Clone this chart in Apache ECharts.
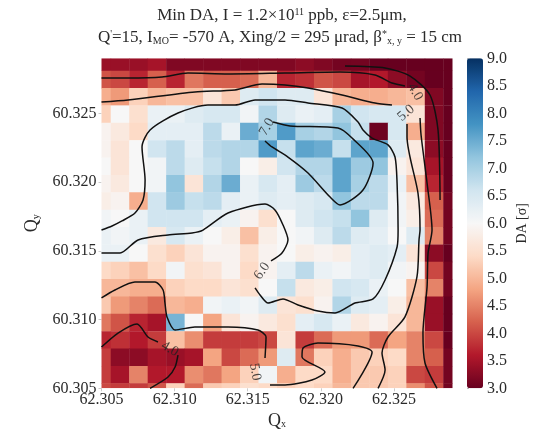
<!DOCTYPE html>
<html><head><meta charset="utf-8">
<style>html,body{margin:0;padding:0;background:#fff}#c{width:534px;height:432px;filter:blur(0.7px)}</style>
<script src="https://cdn.jsdelivr.net/npm/echarts@6/dist/echarts.min.js"></script>
</head><body><div id="c"></div>
<script>
const daRows = [ // top row first, left column first
[3.4,3.4,3.4,3.5,3.2,3.2,3.2,3.2,3.2,3.2,3.2,3.3,3.2,3.1,3.1,3.0,3.0,3.0,3.0,3.0],
[4.1,4.0,3.7,4.2,3.7,4.4,4.2,4.2,4.3,5.0,3.7,3.8,4.1,4.0,3.5,3.6,3.3,3.1,3.0,3.0],
[4.9,4.7,5.3,5.0,5.1,5.1,5.6,5.2,6.4,6.6,6.4,6.4,5.6,5.0,4.9,4.9,5.0,5.1,3.2,3.0],
[5.3,6.0,5.5,6.2,6.2,6.4,6.5,6.5,6.1,6.9,6.4,6.2,6.3,7.0,6.6,6.5,6.5,5.6,3.2,3.0],
[5.9,5.7,5.4,6.3,6.3,6.3,6.8,6.2,7.5,7.0,7.7,7.0,6.9,7.2,6.7,3.05,6.5,4.9,3.2,3.0],
[5.9,5.6,6.0,6.6,6.8,6.3,6.8,6.9,6.9,7.7,6.7,7.6,7.5,6.7,7.6,7.6,6.4,5.7,3.3,3.0],
[6.0,5.6,6.0,6.1,6.8,6.4,6.7,6.9,6.0,5.8,6.6,6.9,6.9,7.6,7.1,7.2,5.9,5.6,3.5,3.0],
[5.9,5.7,6.0,6.1,7.2,5.6,6.9,7.5,6.2,6.5,6.3,7.1,6.8,7.6,7.0,6.8,6.2,5.1,3.7,3.0],
[5.8,5.9,4.9,6.6,7.1,6.7,6.8,6.3,6.2,6.4,6.3,6.4,6.5,7.2,6.8,6.8,6.1,5.7,4.2,3.1],
[6.1,6.0,6.2,6.6,6.6,6.6,6.3,6.2,5.9,5.5,6.0,6.4,6.6,6.7,7.2,6.4,6.1,5.8,4.3,3.1],
[6.2,6.1,6.2,5.7,6.5,6.2,6.0,5.8,5.1,5.8,6.0,6.1,6.4,6.8,6.4,6.3,6.0,6.4,4.5,3.1],
[6.2,6.2,6.0,5.5,5.3,5.6,5.9,5.9,5.5,5.9,6.0,5.8,5.9,5.8,6.3,6.4,6.3,5.6,3.3,3.0],
[5.4,5.3,5.1,5.4,6.1,5.5,5.6,5.9,5.4,5.9,6.3,6.8,6.2,6.1,6.3,6.4,6.1,5.9,4.0,3.1],
[5.0,5.0,4.9,4.9,5.3,5.4,5.4,5.6,5.5,6.0,6.7,5.7,5.8,6.6,6.5,6.2,6.0,5.1,4.5,3.1],
[5.2,4.7,4.5,4.3,5.0,4.9,6.1,6.2,6.1,6.4,5.6,5.5,5.9,6.9,6.4,6.3,5.8,5.0,3.4,3.0],
[4.4,4.1,3.7,3.5,7.4,6.0,4.8,5.6,5.9,5.7,5.5,6.3,6.5,6.2,5.7,5.9,5.6,5.0,3.4,3.0],
[3.7,3.8,3.6,3.9,5.1,4.6,3.9,3.9,3.9,4.0,5.6,3.9,4.3,4.7,4.7,4.3,4.8,4.5,4.0,3.0],
[3.9,3.3,3.3,3.5,3.4,3.5,4.8,4.0,4.3,4.7,6.4,4.4,5.3,4.9,5.2,5.3,5.4,4.5,4.2,3.1],
[3.9,3.5,4.5,3.6,3.6,4.6,4.4,4.8,5.3,6.1,4.9,5.4,5.4,4.9,5.2,5.2,5.3,4.0,3.9,3.1],
[4.0,3.9,3.9,4.1,5.3,4.3,5.2,5.3,5.5,5.4,5.3,5.4,5.3,5.0,5.2,5.2,5.3,4.6,4.1,3.1]
];
const qxStart = 62.305, qxEnd = 62.329, qyStart = 60.305, qyEnd = 60.329;
const qStep = 0.024 / 19, qyFirstCentre = 60.30473;
const xTicks = [62.305,62.310,62.315,62.320,62.325];
const yTicks = [60.305,60.310,60.315,60.320,60.325];
const barTicks = [3,3.5,4,4.5,5,5.5,6,6.5,7,7.5,8,8.5,9];
const titleLine1 = 'Min DA, I = 1.2×10{sup|11} ppb, ε=2.5μm,';
const titleLine2 = "Q{sup|'}=15, I{sub|MO}= -570 A, Xing/2 = 295 μrad, β{sup|*}{sub|x, y} = 15 cm";
const rdBu = ['#67001f','#b2182b','#d6604d','#f4a582','#fddbc7','#f7f7f7','#d1e5f0','#92c5de','#4393c3','#2166ac','#053061'];

const contour6a = [[62.30500,60.31651],[62.30572,60.31680],[62.30640,60.31717],[62.30729,60.31775],[62.30784,60.31870],[62.30798,60.32015],[62.30777,60.32255],[62.30832,60.32379],[62.31023,60.32502],[62.31228,60.32560],[62.31413,60.32560],[62.31550,60.32597],[62.31755,60.32597],[62.31912,60.32575],[62.32145,60.32539],[62.32254,60.32437],[62.32288,60.32379],[62.32350,60.32320],[62.32459,60.32270],[62.32507,60.32182],[62.32521,60.31993],[62.32528,60.31651],[62.32521,60.31528],[62.32439,60.31288],[62.32357,60.31150],[62.32233,60.31120],[62.32097,60.31048],[62.31980,60.31062],[62.31844,60.31106],[62.31741,60.31150],[62.31639,60.31120],[62.31584,60.31179],[62.31550,60.31230]];
const contour6b = [[62.31659,60.31426],[62.31734,60.31484],[62.31775,60.31579],[62.31741,60.31688],[62.31686,60.31797],[62.31618,60.31840],[62.31365,60.31775],[62.31194,60.31651],[62.31119,60.31630],[62.30955,60.31615],[62.30750,60.31579],[62.30627,60.31484],[62.30500,60.31484]];
const contour7 = [[62.31673,60.32437],[62.31789,60.32408],[62.32117,60.32393],[62.32213,60.32320],[62.32357,60.32139],[62.32288,60.31942],[62.32131,60.31833],[62.32063,60.31891],[62.31912,60.32066],[62.31775,60.32182],[62.31666,60.32255],[62.31618,60.32299]];
const contour5top = [[62.30500,60.32582],[62.30681,60.32597],[62.31139,60.32655],[62.31413,60.32670],[62.31598,60.32713],[62.31755,60.32706],[62.31912,60.32684],[62.32145,60.32633],[62.32370,60.32575],[62.32486,60.32560]];
const contour5right = [[62.32589,60.32422],[62.32589,60.32328],[62.32664,60.31920],[62.32678,60.31651],[62.32671,60.31579],[62.32657,60.31310],[62.32575,60.31019],[62.32459,60.30873],[62.32418,60.30757],[62.32439,60.30633],[62.32391,60.30500]];
const contour5bottom = [[62.32220,60.30500],[62.32350,60.30764],[62.32254,60.30808],[62.31980,60.30829],[62.31878,60.30793],[62.31871,60.30728],[62.32028,60.30619],[62.31939,60.30560],[62.31755,60.30524],[62.31652,60.30524]];
const contour5left = [[62.31618,60.30720],[62.31625,60.30873],[62.31570,60.30924],[62.31365,60.30946],[62.31139,60.30946],[62.31003,60.30924],[62.30948,60.31019],[62.30934,60.31120],[62.30921,60.31215],[62.30866,60.31273],[62.30729,60.31273],[62.30592,60.31215],[62.30500,60.31157]];
const contour4lowA = [[62.30500,60.30800],[62.30613,60.30902],[62.30743,60.30968],[62.30818,60.30873],[62.30886,60.30837]];
const contour4lowB = [[62.31023,60.30742],[62.31003,60.30655],[62.30955,60.30582],[62.30832,60.30500]];
const contour4top = [[62.30500,60.32757],[62.30681,60.32757],[62.30914,60.32764],[62.31091,60.32793],[62.31365,60.32786],[62.31755,60.32793],[62.32131,60.32800],[62.32370,60.32779],[62.32486,60.32720],[62.32575,60.32699]];
const contour4right = [[62.32678,60.32466],[62.32685,60.32342],[62.32726,60.31993],[62.32760,60.31651],[62.32733,60.31484],[62.32726,60.31237],[62.32698,60.30902],[62.32712,60.30684],[62.32794,60.30500]];
const contour35 = [[62.32165,60.32844],[62.32439,60.32830],[62.32610,60.32771],[62.32746,60.32633],[62.32801,60.32379],[62.32815,60.31870]];
const contourLines = [contour6a,contour6b,contour7,contour5top,contour5right,contour5bottom,contour5left,contour4lowA,contour4lowB,contour4top,contour4right,contour35];

const labelText = ['7.0','6.0','5.0','4.0','5.0','4.0'];
const labelQx = [62.31632,62.31598,62.31550,62.32644,62.32582,62.30968];
const labelQy = [60.32400,60.31353,60.30619,60.32655,60.32502,60.30786];
const labelAngle = [60,55,-80,-60,40,-30];

const FONT = '"Liberation Serif", serif', INK = '#2a2a2a';
const cells = [];
daRows.forEach((row,r)=>row.forEach((v,c)=>{
  cells.push([qxStart + c*qStep, qyFirstCentre + (daRows.length-1-r)*qStep, v]);
}));
const chart = echarts.init(document.getElementById('c'),null,{renderer:'canvas'});
const rich = {sup:{fontSize:10,fontFamily:FONT,color:INK,padding:[0,0,8,0]},sub:{fontSize:10,fontFamily:FONT,color:INK,padding:[7,0,0,0]}};
const axisLab = {fontFamily:FONT,fontSize:16,color:INK};
chart.setOption({
  animation:false,
  backgroundColor:'#fff',
  title:[
    {text:titleLine1,left:277,top:2,textAlign:'center',textStyle:{fontFamily:FONT,fontSize:17,fontWeight:'normal',color:INK,rich}},
    {text:titleLine2,left:275,top:24,textAlign:'center',textStyle:{fontFamily:FONT,fontSize:17,fontWeight:'normal',color:INK,rich}}
  ],
  grid:[
    {left:101.5,top:58.3,width:351,height:330,outerBoundsMode:'none'},
    {left:467,top:58.3,width:16,height:330,outerBoundsMode:'none'}
  ],
  xAxis:[
    {type:'value',min:qxStart,max:qxEnd,name:'Q{sub|x}',nameLocation:'middle',nameGap:24,
     nameTextStyle:{fontFamily:FONT,fontSize:18,color:INK,rich},
     axisLine:{show:false},splitLine:{show:false},
     axisTick:{show:true,length:3,lineStyle:{color:'#ccc'},customValues:xTicks},
     axisLabel:{...axisLab,margin:3,customValues:xTicks,formatter:v=>v.toFixed(3)}},
    {type:'value',gridIndex:1,show:false,min:0,max:1}
  ],
  yAxis:[
    {type:'value',min:qyStart,max:qyEnd,name:'Q{sub|y}',nameLocation:'middle',nameGap:60,nameRotate:90,
     nameTextStyle:{fontFamily:FONT,fontSize:18,color:INK,rich},
     axisLine:{show:false},splitLine:{show:false},
     axisTick:{show:true,length:3,lineStyle:{color:'#ccc'},customValues:yTicks},
     axisLabel:{...axisLab,margin:5,customValues:yTicks,formatter:v=>v.toFixed(3)}},
    {type:'value',gridIndex:1,position:'right',min:3,max:9,name:'DA [σ]',nameLocation:'middle',nameGap:32,nameRotate:90,
     nameTextStyle:{fontFamily:FONT,fontSize:14,color:INK},
     axisLine:{show:false},splitLine:{show:false},
     axisTick:{show:true,length:2,lineStyle:{color:'#bbb'},customValues:barTicks},
     axisLabel:{...axisLab,margin:4,customValues:barTicks,formatter:v=>v.toFixed(1)}}
  ],
  visualMap:{type:'continuous',min:3,max:9,dimension:2,seriesIndex:0,calculable:false,
    left:467,top:58.3,itemWidth:16,itemHeight:330,padding:0,text:null,inRange:{color:rdBu}},
  series:[
    {type:'custom',data:cells,encode:{x:0,y:1},clip:true,silent:true,z:1,
     renderItem(params,api){
       const x=api.value(0),y=api.value(1);
       const a=api.coord([x-qStep/2,y+qStep/2]),b=api.coord([x+qStep/2,y-qStep/2]);
       const shape=echarts.graphic.clipRectByRect({x:a[0],y:a[1],width:b[0]-a[0]+.4,height:b[1]-a[1]+.4},params.coordSys);
       return shape?{type:'rect',shape,style:{fill:api.visual('color')}}:null;
     }},
    ...contourLines.map(d=>({type:'line',data:d,showSymbol:false,symbol:'none',smooth:0.25,z:3,silent:true,
      lineStyle:{color:'#111',width:1.5}})),
    {type:'scatter',z:4,silent:true,symbolSize:1,itemStyle:{color:'transparent'},
     data:labelText.map((t,i)=>({value:[labelQx[i],labelQy[i]],
       label:{show:true,position:'inside',formatter:t,rotate:labelAngle[i],fontFamily:FONT,fontSize:14,color:'#222'}}))}
  ]
});
</script></body></html>
